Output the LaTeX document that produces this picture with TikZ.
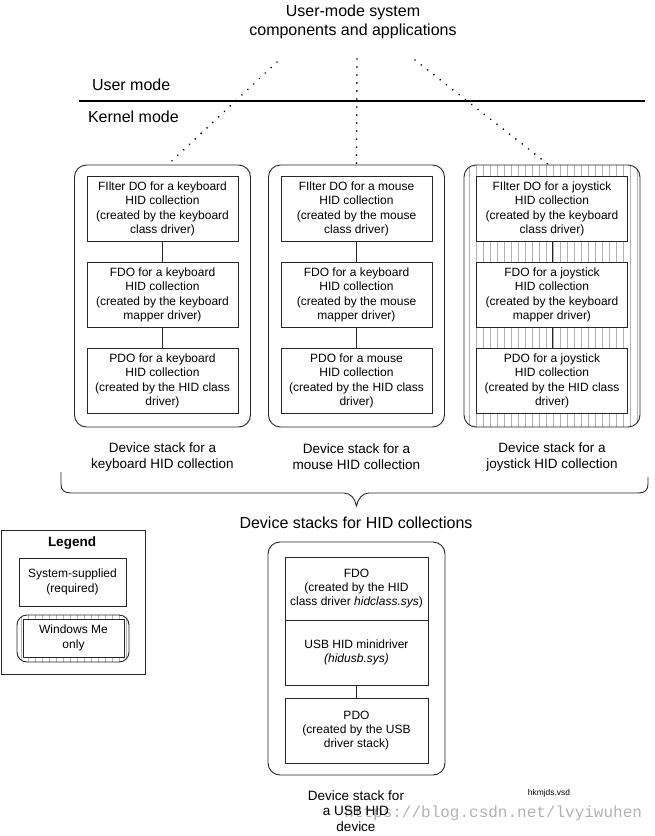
\documentclass[tikz,border=0pt]{standalone}
\usepackage{fontspec}
\setmainfont{Liberation Sans}
\newfontfamily\wmfont{Liberation Mono}
\usetikzlibrary{patterns.meta}
\begin{document}
\begin{tikzpicture}[x=1pt,y=-1pt,
  every node/.style={inner sep=0pt, outer sep=0pt},
  lbl/.style={font=\fontsize{16}{19}\selectfont, align=center},
  captxt/.style={font=\fontsize{13.5}{16}\selectfont, align=center},
  inbox/.style={draw=black!85, line width=0.9pt, fill=white, minimum width=151pt, minimum height=65pt, align=center, font=\fontsize{12}{14.3}\selectfont},
  outbox/.style={draw=black!85, line width=0.9pt, rounded corners=12pt, minimum width=176pt, minimum height=262pt},
  hatch/.style={pattern={Lines[angle=90,distance=7pt,line width=0.5pt]}, pattern color=black!30},
  conn/.style={draw=black!85, line width=0.9pt},
  dots/.style={line width=1.9pt, dash pattern=on 0.01pt off 8pt, line cap=round},
]
\useasboundingbox (0,0) rectangle (654,836);

% title and modes
\node[lbl] (title) at (353,22) {User-mode system\\components and applications};
\node[lbl, anchor=west] (umode) at (92,85) {User mode};
\node[lbl, anchor=west] (kmode) at (88,117) {Kernel mode};
\draw[line width=2.8pt] (79,101) -- (645,101);

% stacks
\node[outbox] (kstack) at (162.5,296) {};
\node[outbox] (mstack) at (356.5,296) {};
\node[outbox, hatch] (jstack) at (552,296) {};

\node[inbox] (k1) at (162.5,209) {FIlter DO for a keyboard\\HID collection\\(created by the keyboard\\class driver)};
\node[inbox] (k2) at (162.5,295) {FDO for a keyboard\\HID collection\\(created by the keyboard\\mapper driver)};
\node[inbox] (k3) at (162.5,381) {PDO for a keyboard\\HID collection\\(created by the HID class\\driver)};

\node[inbox] (m1) at (356.5,209) {FIlter DO for a mouse\\HID collection\\(created by the mouse\\class driver)};
\node[inbox] (m2) at (356.5,295) {FDO for a keyboard\\HID collection\\(created by the mouse\\mapper driver)};
\node[inbox] (m3) at (356.5,381) {PDO for a mouse\\HID collection\\(created by the HID class\\driver)};

\node[inbox] (j1) at (552,209) {FIlter DO for a joystick\\HID collection\\(created by the keyboard\\class driver)};
\node[inbox] (j2) at (552,295) {FDO for a joystick\\HID collection\\(created by the keyboard\\mapper driver)};
\node[inbox] (j3) at (552,381) {PDO for a joystick\\HID collection\\(created by the HID class\\driver)};

\draw[conn] (k1.south) -- (k2.north) (k2.south) -- (k3.north);
\draw[conn] (m1.south) -- (m2.north) (m2.south) -- (m3.north);
\draw[conn] (j1.south) -- (j2.north) (j2.south) -- (j3.north);

% dotted links
\coordinate (tl) at (277,62);
\coordinate (tm) at (357,59);
\coordinate (tr) at (415,60);
\draw[dots] (tl) -- ([xshift=5pt]kstack.north);
\draw[dots] (tm) -- (mstack.north);
\draw[dots] (tr) -- ([xshift=-3pt]jstack.north);

% captions
\node[captxt] (kcap) at (162.5,457) {Device stack for a\\keyboard HID collection};
\node[captxt] (mcap) at (356.5,457) {Device stack for a\\mouse HID collection};
\node[captxt] (jcap) at (552,457) {Device stack for a\\joystick HID collection};

% brace
\draw[line width=0.9pt, black!85] (61,472) -- (61,484) .. controls (61,490) and (64,493) .. (71,493)
  -- (344,493) .. controls (351,493) and (355,499) .. (356.5,506)
  .. controls (358,499) and (362,493) .. (369,493)
  -- (638,493) .. controls (645,493) and (648,490) .. (648,484) -- (648,477);
\node[lbl] (hidcap) at (356,523) {Device stacks for HID collections};

% legend
\node[draw=black!85, line width=0.9pt, minimum width=144pt, minimum height=144pt] (legend) at (73,602) {};
\node[font=\fontsize{13.5}{16}\selectfont\bfseries] (legtitle) at (72,543) {Legend};
\node[inbox, minimum width=107pt, minimum height=48pt] (legsys) at (72.5,582) {System-supplied\\(required)};
\node[draw=black!85, line width=0.9pt, rounded corners=10pt, minimum width=112pt, minimum height=47pt, hatch] (legwinout) at (73,638.5) {};
\node[inbox, minimum width=101pt, minimum height=38pt] (legwin) at (73.5,638) {Windows Me\\only};

% USB stack
\node[outbox, minimum width=177pt, minimum height=233pt] (ustack) at (356.5,658.5) {};
\node[inbox, minimum width=143pt, minimum height=63pt] (u1) at (356.5,588.5) {FDO\\(created by the HID\\class driver \textit{hidclass.sys})};
\node[inbox, minimum width=143pt, minimum height=65pt] (u2) at (356.5,652.5) {USB HID minidriver\\\textit{(hidusb.sys)}};
\node[inbox, minimum width=143pt, minimum height=65pt] (u3) at (356.5,730.5) {PDO\\(created by the USB\\driver stack)};
\draw[conn] (u2.south) -- (u3.north);

\node[text=black!30, font=\wmfont\fontsize{16}{16}\selectfont, anchor=east] (wm) at (642,813) {https://blog.csdn.net/lvyiwuhen};
\node[captxt, font=\fontsize{13.5}{15.5}\selectfont] (ucap) at (356,811) {Device stack for\\a USB HID\\device};
\node[font=\fontsize{8.4}{10}\selectfont] (vsd) at (549,793) {hkmjds.vsd};
\end{tikzpicture}
\end{document}
